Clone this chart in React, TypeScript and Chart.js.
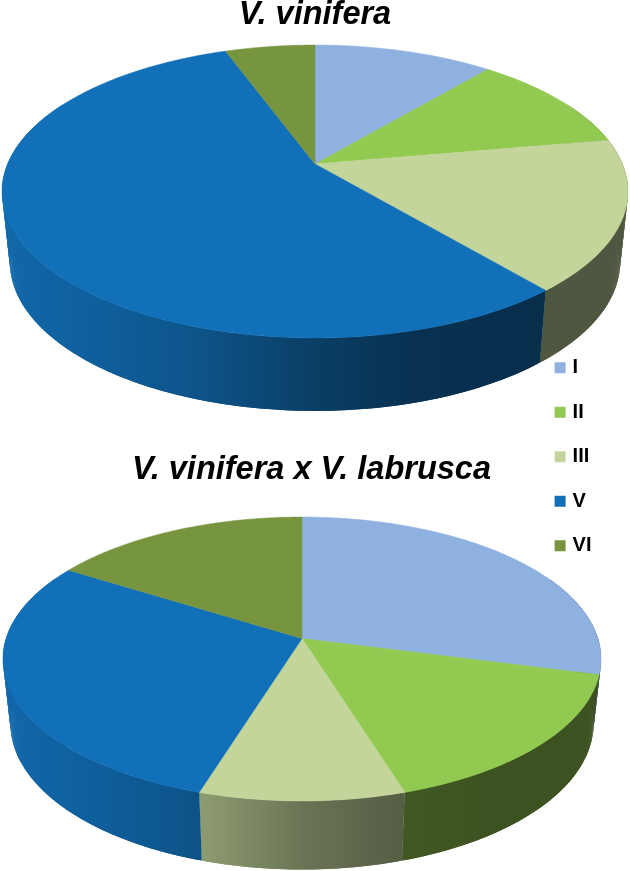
import React, { useEffect, useRef } from "react";
import { Chart, registerables } from "chart.js";

Chart.register(...registerables);

const categories = ["I", "II", "III", "V", "VI"];
const viniferaValues = [2, 2, 3, 10, 1];
const hybridValues = [9, 5, 3, 9, 5];
const colors = ["#8EB1DF", "#92C950", "#C3D59B", "#1270B8", "#77943F"];
const titles = ["V. vinifera", "V. vinifera x V. labrusca"];

// side-wall darkening, left (0) to right (1) across the pie
const shadeStops = [
  [0, 0.93],
  [0.16, 0.84],
  [0.32, 0.74],
  [0.5, 0.55],
  [0.66, 0.44],
  [0.86, 0.41],
  [1, 0.41],
];

type Geo = { cx: number; ay: number; p: number; A: number; C: number; sx: number; sy: number; by: number; left: number; right: number };

const geoTop: Geo = { cx: 315, ay: 164, p: -0.1877, A: 141.3, C: 307.4, sx: 0.975, sy: 1.017, by: 234, left: 2, right: 628 };
const geoBottom: Geo = { cx: 302, ay: 188.5, p: -0.1444, A: 139, C: 295.9, sx: 0.975, sy: 1.028, by: 252.5, left: 3, right: 601 };

function hexMul(hex: string, f: number) {
  const n = parseInt(hex.slice(1), 16);
  const r = Math.round(((n >> 16) & 255) * f);
  const g = Math.round(((n >> 8) & 255) * f);
  const b = Math.round((n & 255) * f);
  return `rgb(${r},${g},${b})`;
}

function project(g: Geo, t: number) {
  const w = 1 + g.p * Math.sin(t);
  const X = (g.C * Math.cos(t)) / w;
  const Y = (g.A * Math.sin(t)) / w;
  return { tx: g.cx + X, ty: g.ay + Y, bx: g.cx + X * g.sx, by: g.by + Y * g.sy };
}

function samples(a: number, b: number) {
  const n = Math.max(2, Math.ceil((b - a) / 0.01));
  const out: number[] = [];
  for (let i = 0; i <= n; i++) out.push(a + ((b - a) * i) / n);
  return out;
}

const pie3d = {
  id: "pie3d",
  beforeDatasetsDraw(chart: any, _args: any, opts: any) {
    const g: Geo = opts.geo;
    const ctx = chart.ctx;
    const arcs = chart.getDatasetMeta(0).data;
    const cols = chart.data.datasets[0].backgroundColor as string[];
    ctx.save();
    // walls: overlapping small quads, so the fold at the silhouette stays filled
    const lo = -0.15 * Math.PI;
    const hi = 1.15 * Math.PI;
    arcs.forEach((arc: any, i: number) => {
      const a = Math.max(arc.startAngle, lo);
      const b = Math.min(arc.endAngle, hi);
      if (b <= a) return;
      const grad = ctx.createLinearGradient(g.left, 0, g.right, 0);
      shadeStops.forEach(([o, f]) => grad.addColorStop(o, hexMul(cols[i], f)));
      ctx.fillStyle = grad;
      const ts = samples(a, b);
      for (let k = 0; k < ts.length - 1; k++) {
        const q0 = project(g, ts[k]);
        const q1 = project(g, ts[Math.min(k + 2, ts.length - 1)]);
        ctx.beginPath();
        ctx.moveTo(q0.tx, q0.ty);
        ctx.lineTo(q1.tx, q1.ty);
        ctx.lineTo(q1.bx, q1.by);
        ctx.lineTo(q0.bx, q0.by);
        ctx.closePath();
        ctx.fill();
      }
    });
    // top face
    arcs.forEach((arc: any, i: number) => {
      ctx.beginPath();
      ctx.moveTo(g.cx, g.ay);
      samples(arc.startAngle, arc.endAngle).forEach((t) => {
        const q = project(g, t);
        ctx.lineTo(q.tx, q.ty);
      });
      ctx.closePath();
      ctx.fillStyle = cols[i];
      ctx.strokeStyle = cols[i];
      ctx.lineWidth = 0.5;
      ctx.fill();
      ctx.stroke();
    });
    ctx.restore();
    return false;
  },
};

function makeChart(canvas: HTMLCanvasElement, values: number[], title: string, geo: Geo, showLegend: boolean, titleTop: number, titleBottom: number) {
  return new Chart(canvas, {
    type: "pie",
    data: {
      labels: categories,
      datasets: [{ data: values, backgroundColor: colors, borderColor: colors, borderWidth: 6 }],
    },
    plugins: [pie3d as any],
    options: {
      responsive: false,
      animation: false,
      devicePixelRatio: 1,
      layout: { padding: showLegend ? { left: 28.5, right: 28.5 } : 0 },
      plugins: {
        tooltip: { enabled: false },
        title: {
          display: true,
          text: title,
          color: "#000000",
          padding: { top: titleTop, bottom: titleBottom },
          font: { family: "'Liberation Sans', Arial, sans-serif", size: 32.5, weight: "bold", style: "italic", lineHeight: 0.88 },
        },
        legend: {
          display: showLegend,
          position: "right",
          fullSize: false,
          labels: {
            boxWidth: 5,
            boxHeight: 5,
            padding: 24.5,
            color: "#000000",
            font: { family: "'Liberation Sans', Arial, sans-serif", size: 20, weight: "bold" },
          },
        },
        pie3d: { geo },
      } as any,
    },
  });
}

export default function App() {
  const topRef = useRef<HTMLCanvasElement>(null);
  const bottomRef = useRef<HTMLCanvasElement>(null);
  useEffect(() => {
    const a = makeChart(topRef.current!, viniferaValues, titles[0], geoTop, true, 1, 13);
    const b = makeChart(bottomRef.current!, hybridValues, titles[1], geoBottom, false, 6, 0);
    return () => {
      a.destroy();
      b.destroy();
    };
  }, []);
  return (
    <div>
      <canvas ref={topRef} width={630} height={871} style={{ position: "absolute", left: 0, top: 0, display: "block" }} />
      <canvas ref={bottomRef} width={623} height={421} style={{ position: "absolute", left: 0, top: 450, display: "block" }} />
    </div>
  );
}
